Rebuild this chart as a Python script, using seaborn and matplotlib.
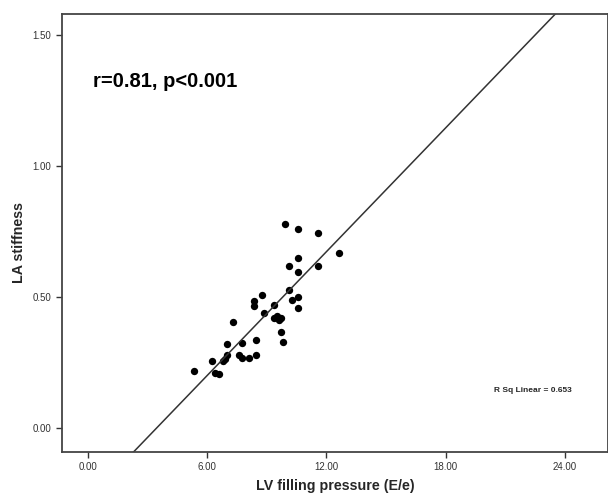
#!/usr/bin/env python3

import numpy as np
import pandas as pd
import matplotlib.pyplot as plt
import seaborn as sns

#========= Data =================================
ee_ratio = [5.35, 6.27, 6.40, 6.60, 6.79, 6.91, 7.02, 7.01, 7.29, 7.63,
            7.75, 7.75, 8.13, 8.37, 8.37, 8.47, 8.47, 8.77, 8.88, 9.39,
            9.37, 9.52, 9.62, 9.72, 9.71, 9.81, 9.92, 10.14, 10.14, 10.26,
            10.56, 10.56, 10.56, 10.56, 10.56, 11.60, 11.60, 12.64]
la_stiffness = [0.218, 0.256, 0.208, 0.205, 0.255, 0.265, 0.278, 0.319, 0.405, 0.278,
                0.267, 0.325, 0.267, 0.484, 0.465, 0.335, 0.278, 0.507, 0.437, 0.469,
                0.419, 0.427, 0.411, 0.419, 0.367, 0.328, 0.778, 0.618, 0.526, 0.488,
                0.758, 0.647, 0.596, 0.498, 0.458, 0.746, 0.618, 0.668]

xticks = [0, 6, 12, 18, 24]
yticks = [0.0, 0.5, 1.0, 1.5]
stat_text = "r=0.81, p<0.001"
rsq_text = "R Sq Linear = 0.653"

df = pd.DataFrame({"ee": ee_ratio, "la": la_stiffness})

#========= Plot ===========
sns.set_style("ticks")
plt.rcParams['font.family'] = ['Liberation Sans', 'DejaVu Sans']

fig = plt.figure(figsize=(6.08, 4.98), dpi=100)
ax = fig.add_axes([0.1015, 0.093, 0.8985, 0.8789])

# limits first so the fit line spans the whole frame
ax.set_xlim(-1.31, 26.17)
ax.set_ylim(-0.0905, 1.580)

sns.regplot(data=df, x="ee", y="la", ax=ax, ci=None, truncate=False,
            scatter_kws=dict(s=28, color="black", linewidths=0, alpha=1),
            line_kws=dict(color="#333333", lw=1.1))

ax.set_xlim(-1.31, 26.17)
ax.set_ylim(-0.0905, 1.580)
ax.set_xticks(xticks)
ax.set_yticks(yticks)
ax.set_xticklabels([f"{v:.2f}" for v in xticks])
ax.set_yticklabels([f"{v:.2f}" for v in yticks])
ax.tick_params(axis="both", direction="out", length=4.5, width=1,
               labelsize=7, colors="#333333", pad=3)

for side in ["top", "right", "bottom", "left"]:
    ax.spines[side].set_visible(True)
    ax.spines[side].set_color("#444444")
    ax.spines[side].set_linewidth(1.3)

ax.set_xlabel("LV filling pressure (E/e)", fontsize=10.3, fontweight="bold", labelpad=5)
ax.set_ylabel("LA stiffness", fontsize=10.3, fontweight="bold")
ax.yaxis.set_label_coords(-0.066, 0.477)

ax.text(0.057, 0.833, stat_text, transform=ax.transAxes, fontsize=14.5,
        fontweight="bold", ha="left", va="baseline", color="black")
ax.text(0.792, 0.139, rsq_text, transform=ax.transAxes, fontsize=6,
        fontweight="bold", ha="left", va="center")

fig.savefig("out.png", dpi=100)
